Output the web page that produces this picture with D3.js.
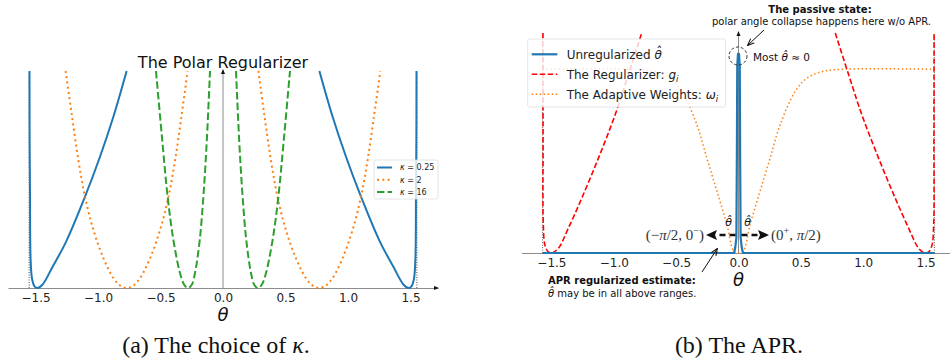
<!DOCTYPE html>
<html>
<head>
<meta charset="utf-8">
<script src="https://cdn.jsdelivr.net/npm/d3@7"></script>
<style>
  body { margin: 0; background: #fff; }
</style>
</head>
<body>
<div id="chart"></div>
<script>
// tick values shared by both panels
const xTicks = [-1.5, -1.0, -0.5, 0.0, 0.5, 1.0, 1.5];
const halfPi = [-Math.PI / 2, Math.PI / 2];
const wallL = [-1.551, 1.551];

// (a) polar regularizer, [theta, g] (g scaled so top of plot = 1)
const kappaLabels = ['0.25', '2', '16'];
const k025Left = [[-1.548, 1.0], [-1.547, 0.70], [-1.544, 0.44], [-1.539, 0.13], [-1.527, 0.04], [-1.508, 0.008], [-1.484, 0], [-1.445, 0.015], [-1.362, 0.099], [-1.255, 0.214], [-1.104, 0.421], [-0.984, 0.605], [-0.877, 0.789], [-0.771, 1.0]];
const k025Right = [[0.771, 1.0], [0.877, 0.789], [0.984, 0.605], [1.104, 0.421], [1.255, 0.214], [1.362, 0.099], [1.445, 0.015], [1.484, 0], [1.508, 0.008], [1.527, 0.04], [1.539, 0.13], [1.544, 0.44], [1.547, 0.70], [1.548, 1.0]];
const k2Left = [[-1.259, 1.0], [-1.211, 0.804], [-1.157, 0.59], [-1.104, 0.421], [-1.037, 0.268], [-0.957, 0.138], [-0.877, 0.046], [-0.82, 0.01], [-0.77, 0], [-0.72, 0.01], [-0.663, 0.046], [-0.583, 0.138], [-0.503, 0.268], [-0.436, 0.421], [-0.383, 0.59], [-0.329, 0.804], [-0.283, 1.0]];
const k2Right = [[0.283, 1.0], [0.329, 0.804], [0.383, 0.59], [0.436, 0.421], [0.503, 0.268], [0.583, 0.138], [0.663, 0.046], [0.72, 0.01], [0.77, 0], [0.82, 0.01], [0.877, 0.046], [0.957, 0.138], [1.037, 0.268], [1.104, 0.421], [1.157, 0.59], [1.211, 0.804], [1.259, 1.0]];
const k16Left = [[-0.536, 1.0], [-0.491, 0.712], [-0.443, 0.421], [-0.397, 0.222], [-0.344, 0.069], [-0.31, 0.015], [-0.28, 0], [-0.25, 0.015], [-0.224, 0.069], [-0.186, 0.222], [-0.155, 0.437], [-0.128, 0.697], [-0.104, 1.0]];
const k16Right = [[0.104, 1.0], [0.128, 0.697], [0.155, 0.437], [0.186, 0.222], [0.224, 0.069], [0.25, 0.015], [0.28, 0], [0.31, 0.015], [0.344, 0.069], [0.397, 0.222], [0.443, 0.421], [0.491, 0.712], [0.536, 1.0]];

// (b) APR, [theta, value]
const unregTheta = [[-1.5708, 0], [-0.036, 0], [-0.026, 0.025], [-0.017, 0.07], [-0.013, 0.45], [-0.010, 0.85], [-0.004, 0.905], [0.004, 0.905], [0.010, 0.85], [0.013, 0.45], [0.017, 0.07], [0.026, 0.025], [0.036, 0], [1.5708, 0]];
const regLeft = [[-1.568, 1.0], [-1.567, 0.5], [-1.565, 0.127], [-1.552, 0.036], [-1.525, 0.005], [-1.497, 0], [-1.445, 0.021], [-1.365, 0.112], [-1.257, 0.249], [-1.124, 0.43], [-0.99, 0.627], [-0.884, 0.809], [-0.776, 1.0]];
const regRight = [[0.776, 1.0], [0.884, 0.809], [0.99, 0.627], [1.124, 0.43], [1.257, 0.249], [1.365, 0.112], [1.445, 0.021], [1.497, 0], [1.525, 0.005], [1.552, 0.036], [1.565, 0.127], [1.567, 0.5], [1.568, 1.0]];
const weights = [[-1.5708, 0.835], [-0.828, 0.835], [-0.667, 0.824], [-0.547, 0.794], [-0.453, 0.733], [-0.333, 0.582], [-0.253, 0.43], [-0.172, 0.279], [-0.092, 0.127], [-0.039, 0.01], [0, 0], [0.039, 0.01], [0.092, 0.127], [0.172, 0.279], [0.253, 0.43], [0.333, 0.582], [0.453, 0.733], [0.547, 0.794], [0.667, 0.824], [0.828, 0.835], [1.5708, 0.835]];

const blue = '#1f77b4', orange = '#ff7f0e', green = '#2ca02c', red = '#ff0000';
const sans = '"DejaVu Sans", sans-serif';
const serif = '"Liberation Serif", "DejaVu Serif", serif';

const svg = d3.select('#chart').append('svg')
    .attr('width', 950).attr('height', 362)
    .attr('font-family', sans)
    .style('background', '#fff');

const defs = svg.append('defs');
defs.append('clipPath').attr('id', 'clipL')
    .append('rect').attr('x', 0).attr('y', 70).attr('width', 470).attr('height', 222);
defs.append('clipPath').attr('id', 'clipR')
    .append('rect').attr('x', 470).attr('y', 32).attr('width', 480).attr('height', 225);

const fmt = d3.format('.1f');

function drawAxes(x, y, xArrow) {
    const ax = svg.append('g')
        .attr('transform', `translate(0,${y(0)})`)
        .call(d3.axisBottom(x).tickValues(xTicks).tickSize(0).tickSizeOuter(0).tickPadding(5).tickFormat(fmt));
    ax.attr('font-family', sans);
    ax.select('.domain').attr('stroke', '#8c8c8c');
    ax.selectAll('text').attr('font-size', 12).attr('fill', '#222');
    const x1 = x.range()[1];
    const xm = x(0);
    const top = y.range()[1];
    svg.append('line').attr('x1', xm).attr('x2', xm).attr('y1', y(0)).attr('y2', top - 1)
        .attr('stroke', '#8c8c8c');
    svg.append('path').attr('d', `M${xm - 2},${top + 3}L${xm},${top - 2}L${xm + 2},${top + 3}Z`)
        .attr('fill', '#111');
    if (xArrow) {
        svg.append('path').attr('d', `M${x1 - 4},${y(0) - 2}L${x1 + 1},${y(0)}L${x1 - 4},${y(0) + 2}Z`)
            .attr('fill', '#111');
    }
}

// ---------- (a) ----------
const xL = d3.scaleLinear().domain([-1.72, 1.72]).range([8, 438]);
const yL = d3.scaleLinear().domain([0, 1]).range([288, 71]);
drawAxes(xL, yL, true);

const lineL = d3.line().x(d => xL(d[0])).y(d => yL(d[1])).curve(d3.curveCatmullRom.alpha(0.5));
const gL = svg.append('g').attr('clip-path', 'url(#clipL)');

gL.selectAll('.bound').data(wallL).enter().append('line')
    .attr('x1', d => xL(d)).attr('x2', d => xL(d))
    .attr('y1', yL(0)).attr('y2', yL(1))
    .attr('stroke', '#444').attr('stroke-width', 1).attr('stroke-dasharray', '1,1.5');

const seriesL = [
    {name: kappaLabels[0], parts: [k025Left, k025Right], color: blue, dash: null, w: 2},
    {name: kappaLabels[1], parts: [k2Left, k2Right], color: orange, dash: '2,3.3', w: 2},
    {name: kappaLabels[2], parts: [k16Left, k16Right], color: green, dash: '7.4,3.2', w: 2}
];
seriesL.forEach(s => {
    s.parts.forEach(p => {
        gL.append('path').attr('d', lineL(p))
            .attr('fill', 'none').attr('stroke', s.color).attr('stroke-width', s.w)
            .attr('stroke-dasharray', s.dash);
    });
});

svg.append('text').attr('x', xL(0)).attr('y', 68).attr('text-anchor', 'middle')
    .attr('font-size', 16).attr('fill', '#111').text('The Polar Regularizer');
svg.append('text').attr('x', xL(0)).attr('y', 321).attr('text-anchor', 'middle')
    .attr('font-size', 18).attr('font-style', 'italic').attr('fill', '#111').text('θ');

// legend (a)
const legL = svg.append('g');
legL.append('rect').attr('x', 374).attr('y', 160).attr('width', 64).attr('height', 39)
    .attr('rx', 2).attr('fill', '#fff').attr('fill-opacity', 0.8).attr('stroke', '#ddd').attr('stroke-width', 0.8);
seriesL.forEach((s, i) => {
    const yy = 167.5 + i * 12.2;
    legL.append('line').attr('x1', 377).attr('x2', 392).attr('y1', yy).attr('y2', yy)
        .attr('stroke', s.color).attr('stroke-width', 2).attr('stroke-dasharray', s.dash);
    const t = legL.append('text').attr('x', 400).attr('y', yy).attr('dy', '0.35em')
        .attr('font-size', 8).attr('fill', '#222');
    t.append('tspan').attr('font-style', 'italic').text('κ');
    t.append('tspan').text(' = ' + s.name);
});

// ---------- (b) ----------
const xR = d3.scaleLinear().domain([-1.74, 1.74]).range([521.5, 955.5]);
const yR = d3.scaleLinear().domain([0, 1]).range([253, 33]);
drawAxes(xR, yR, false);

const lineR = d3.line().x(d => xR(d[0])).y(d => yR(d[1])).curve(d3.curveCatmullRom.alpha(0.5));
const gR = svg.append('g').attr('clip-path', 'url(#clipR)');

gR.selectAll('.bound').data(halfPi).enter().append('line')
    .attr('x1', d => xR(d)).attr('x2', d => xR(d))
    .attr('y1', yR(0)).attr('y2', yR(1))
    .attr('stroke', '#666').attr('stroke-width', 1).attr('stroke-dasharray', '1,1.5');

gR.append('path').attr('d', lineR(weights))
    .attr('fill', 'none').attr('stroke', orange).attr('stroke-width', 1.5).attr('stroke-dasharray', '1.5,2.5');
[regLeft, regRight].forEach(p => {
    gR.append('path').attr('d', lineR(p))
        .attr('fill', 'none').attr('stroke', red).attr('stroke-width', 1.6).attr('stroke-dasharray', '5.5,2.5');
});
gR.append('path').attr('d', d3.line().x(d => xR(d[0])).y(d => yR(d[1]))(unregTheta))
    .attr('fill', 'none').attr('stroke', blue).attr('stroke-width', 2.2).attr('stroke-linejoin', 'round');

svg.append('text').attr('x', xR(0)).attr('y', 286).attr('text-anchor', 'middle')
    .attr('font-size', 18).attr('font-style', 'italic').attr('fill', '#111').text('θ');

// legend (b)
const legR = svg.append('g');
legR.append('rect').attr('x', 527.7).attr('y', 39).attr('width', 198).attr('height', 68)
    .attr('rx', 2).attr('fill', '#fff').attr('fill-opacity', 0.8).attr('stroke', '#ddd').attr('stroke-width', 0.8);
const legRItems = [
    {color: blue, dash: null, w: 2.2, parts: [['Unregularized ', false], ['θ̂', true]]},
    {color: red, dash: '5.5,2.5', w: 1.6, parts: [['The Regularizer: ', false], ['g', true], ['i', 'sub']]},
    {color: orange, dash: '1.5,2.5', w: 1.5, parts: [['The Adaptive Weights: ', false], ['ω', true], ['i', 'sub']]}
];
legRItems.forEach((it, i) => {
    const yy = 54.3 + i * 20;
    legR.append('line').attr('x1', 531.7).attr('x2', 557.3).attr('y1', yy).attr('y2', yy)
        .attr('stroke', it.color).attr('stroke-width', it.w).attr('stroke-dasharray', it.dash);
    const t = legR.append('text').attr('x', 566.7).attr('y', yy).attr('dy', '0.35em')
        .attr('font-size', 12).attr('fill', '#222');
    it.parts.forEach(p => {
        const ts = t.append('tspan').text(p[0]);
        if (p[1] === true) ts.attr('font-style', 'italic');
        if (p[1] === 'sub') ts.attr('font-style', 'italic').attr('font-size', 8.5).attr('dy', 3);
    });
});

// annotations (b)
const ann = svg.append('g').attr('fill', '#111');
ann.append('text').attr('x', 820).attr('y', 13).attr('text-anchor', 'middle')
    .attr('font-size', 10).attr('font-weight', 'bold').text('The passive state:');
ann.append('text').attr('x', 821.5).attr('y', 25).attr('text-anchor', 'middle')
    .attr('font-size', 10).text('polar angle collapse happens here w/o APR.');

defs.append('marker').attr('id', 'thin').attr('viewBox', '0 0 10 10')
    .attr('refX', 9).attr('refY', 5).attr('markerWidth', 7).attr('markerHeight', 7)
    .attr('orient', 'auto-start-reverse')
    .append('path').attr('d', 'M0,1L10,5L0,9').attr('fill', 'none').attr('stroke', '#111').attr('stroke-width', 1.5);

svg.append('line').attr('x1', 764).attr('y1', 30).attr('x2', 748).attr('y2', 45)
    .attr('stroke', '#111').attr('stroke-width', 1).attr('marker-end', 'url(#thin)');
svg.append('circle').attr('cx', xR(0) - 0.5).attr('cy', 56).attr('r', 9)
    .attr('fill', 'none').attr('stroke', '#333').attr('stroke-width', 1).attr('stroke-dasharray', '3,2');
const most = ann.append('text').attr('x', 753).attr('y', 61).attr('font-size', 10.5);
most.append('tspan').text('Most ');
most.append('tspan').attr('font-style', 'italic').text('θ̂');
most.append('tspan').text(' ≈ 0');

// interval arrows
const arrY = 235;
svg.append('line').attr('x1', xR(0) - 3).attr('x2', 716).attr('y1', arrY).attr('y2', arrY)
    .attr('stroke', '#111').attr('stroke-width', 2.5).attr('stroke-dasharray', '6,4');
svg.append('path').attr('d', `M706,${arrY}L717,${arrY - 5}L715,${arrY}L717,${arrY + 5}Z`).attr('fill', '#111');
svg.append('line').attr('x1', xR(0) + 3).attr('x2', 759).attr('y1', arrY).attr('y2', arrY)
    .attr('stroke', '#111').attr('stroke-width', 2.5).attr('stroke-dasharray', '6,4');
svg.append('path').attr('d', `M769,${arrY}L758,${arrY - 5}L760,${arrY}L758,${arrY + 5}Z`).attr('fill', '#111');

const lt = ann.append('text').attr('x', 704).attr('y', 240).attr('text-anchor', 'end')
    .attr('font-size', 15).attr('font-family', serif).attr('fill', '#333');
lt.append('tspan').text('(−');
lt.append('tspan').attr('font-style', 'italic').text('π');
lt.append('tspan').text('/2, 0');
lt.append('tspan').attr('font-size', 10).attr('dy', -6).text('−');
lt.append('tspan').attr('dy', 6).text(')');
const rt = ann.append('text').attr('x', 771).attr('y', 240)
    .attr('font-size', 15).attr('font-family', serif).attr('fill', '#333');
rt.append('tspan').text('(0');
rt.append('tspan').attr('font-size', 10).attr('dy', -6).text('+');
rt.append('tspan').attr('dy', 6).text(', ');
rt.append('tspan').attr('font-style', 'italic').text('π');
rt.append('tspan').text('/2)');
[728.5, 747.5].forEach(xx => {
    ann.append('text').attr('x', xx).attr('y', 226).attr('text-anchor', 'middle')
        .attr('font-size', 11).attr('font-style', 'italic').text('θ̂');
});

svg.append('line').attr('x1', 702).attr('y1', 272).attr('x2', 717).attr('y2', 249)
    .attr('stroke', '#111').attr('stroke-width', 1).attr('marker-end', 'url(#thin)');
ann.append('text').attr('x', 548).attr('y', 284)
    .attr('font-size', 10).attr('font-weight', 'bold').text('APR regularized estimate:');
const may = ann.append('text').attr('x', 548).attr('y', 297).attr('font-size', 10);
may.append('tspan').attr('font-style', 'italic').text('θ̂');
may.append('tspan').text(' may be in all above ranges.');

// captions
const cap = svg.append('g').attr('font-family', serif).attr('font-size', 24).attr('fill', '#111');
const ca = cap.append('text').attr('x', 216).attr('y', 353).attr('text-anchor', 'middle');
ca.append('tspan').text('(a) The choice of ');
ca.append('tspan').attr('font-style', 'italic').text('κ');
ca.append('tspan').text('.');
cap.append('text').attr('x', 739).attr('y', 353).attr('text-anchor', 'middle').text('(b) The APR.');
</script>
</body>
</html>
